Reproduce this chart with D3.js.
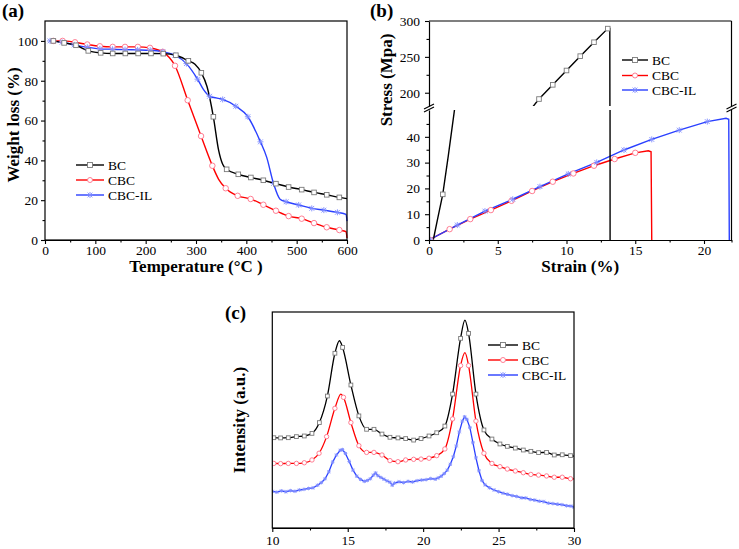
<!DOCTYPE html>
<html><head><meta charset="utf-8">
<script src="https://cdn.jsdelivr.net/npm/d3@7"></script>
<style>
body{margin:0;background:#fff}
svg{display:block}
text{font-family:"Liberation Serif","Times New Roman",serif;fill:#000}
</style>
</head><body>
<svg id="fig" width="739" height="549"></svg>
<script>
// ---------------- DATA ----------------
const seriesNames = ["BC", "CBC", "CBC-IL"];

// (a) TGA: temperature (°C) vs weight (%)
const tgaBCMarks  = [[16.6,100],[38,99],[61.6,97.8],[86,95],[110.6,94],[134.5,93.7],[159.6,93.7],[185,93.7],[210.6,93.7],[235,93.6],[260,92.8],[284.8,90],[310.6,84],[334.5,61.9],[360.9,35.5],[384,33],[409,31.4],[433.8,30],[458.8,28.3],[484,26.6],[510,25.3],[534.5,23.9],[559.7,22.7],[584.8,21.4]];
const tgaBCExtra  = [[298,88.3],[322,77],[345,45],[353,38],[600,20.8]];
const tgaCBCMarks = [[16.6,100],[35,100],[59.6,99.3],[84,98.2],[109,97.3],[134.5,97],[159,97],[184.5,97],[208.6,96.5],[233.8,94.5],[258.3,87.5],[283.5,70.2],[310,52.2],[332.5,37.3],[359,26],[382.8,22.2],[408.6,20.6],[433.8,17.7],[458.8,14.7],[484,12],[510,10.7],[534.5,8.5],[559.7,6.4],[584.8,5]];
const tgaCBCExtra = [[345,30.5],[598,4.2],[600,1]];
const tgaILMarks  = [[10,100],[34,99.3],[58,98],[84,96.8],[109,96],[134,95.8],[159,95.6],[184,95.5],[209,95.3],[234,94.5],[258,92.8],[281,88.6],[303,80.8],[327,72.2],[353,70.6],[379,67.2],[403,61.9],[428,49.3],[454,28.4],[479,19.2],[504,17.6],[530,15.9],[554,15],[581,13.9]];
const tgaILExtra  = [[315,75.5],[340,71.4],[440.5,41.5],[467,20.5],[598,12.9],[600,9.5]];
const tgaXTicks = [0,100,200,300,400,500,600];
const tgaYTicks = [0,20,40,60,80,100];

// (b) tensile: strain (%) vs stress (MPa)
const ssBC  = [[0.31,0],[0.6,7.5],[1.0,17.7],[1.4,32.5],[1.88,51.5],[7.45,178],[8.0,191.2],[9.0,211],[10,231],[11,251],[12,270.4],[13,289.4],[13.15,289.6],[13.17,0]];
const ssBCMarks = [[1.0,17.7],[8.0,191.2],[9.0,211],[10,231],[11,251],[12,270.4],[13,289.4]];
const ssCBC = [[0,0],[1.5,4.2],[3,8.1],[4.5,11.6],[6,15.2],[7.5,19],[9,22.6],[10.5,25.8],[12,28.8],[13.5,31.4],[15,33.8],[15.95,34.6],[16.15,34.2],[16.2,0]];
const ssCBCMarks = [[0.1,0],[1.5,4.2],[3,8.1],[4.5,11.6],[6,15.2],[7.5,19],[9,22.6],[10.5,25.8],[12,28.8],[13.5,31.4],[15,33.8]];
const ssIL  = [[0,0],[2.06,5.8],[4.07,11.2],[6.09,15.8],[8.07,20.7],[10.13,25.6],[12.2,30.1],[14.18,34.9],[16.2,39],[18.2,42.6],[20.24,45.9],[21.6,47.2],[21.8,46.8],[21.84,0]];
const ssILMarks = [[0.1,0],[2.06,5.8],[4.07,11.2],[6.09,15.8],[8.07,20.7],[10.13,25.6],[12.2,30.1],[14.18,34.9],[16.2,39],[18.2,42.6],[20.24,45.9]];
const ssXTicks = [0,5,10,15,20];
const ssYTicksLow = [0,10,20,30,40];
const ssYTicksUp = [200,250,300];

// (c) XRD: 2θ vs intensity (a.u.)
const xrdBCMarks = [[10.1,41.8],[10.55,41.7],[11.06,41.8],[11.6,42.3],[12.12,42.6],[12.63,43.8],[13.12,48.8],[13.65,61.1],[14.15,80.9],[14.66,83.6],[15.21,66.2],[15.74,51.9],[16.25,45.7],[16.74,45.7],[17.27,43.5],[17.8,42],[18.33,41.7],[18.84,41.4],[19.37,40.7],[19.86,41.4],[20.39,42.6],[20.9,44.1],[21.44,47.2],[21.95,62],[22.48,87.8],[23.01,90.1],[23.5,62],[24.03,45.4],[24.56,41.2],[25.09,38.9],[25.58,37.8],[26.11,37],[26.64,36.1],[27.14,35.5],[27.65,34.9],[28.18,35],[28.69,33.8],[29.22,33.9],[29.77,33.5]];
const xrdBCExtra = [[10,41.8],[14.45,86.7],[22.77,96.2],[30,33.3]];
const xrdCBCMarks = [[10.1,29.9],[10.55,29.8],[11.06,29.9],[11.6,29.9],[12.12,30.2],[12.63,31.5],[13.1,34.6],[13.6,42.3],[14.15,55.4],[14.72,60.5],[15.21,48.8],[15.74,38.1],[16.25,35],[16.74,35],[17.27,33.8],[17.8,31.2],[18.33,30.7],[18.84,31.5],[19.37,31.8],[19.86,31.9],[20.39,32.3],[20.9,33.5],[21.44,36.6],[21.95,50.5],[22.48,75.2],[23.01,75.2],[23.5,49.5],[24.03,34.6],[24.56,29.9],[25.09,28.4],[25.58,27.3],[26.11,26.4],[26.64,25.6],[27.14,24.8],[27.65,24.5],[28.18,24.1],[28.69,23.5],[29.22,23.5],[29.77,22.8]];
const xrdCBCExtra = [[10,29.9],[14.55,62],[22.77,81.2],[30,22.7]];
const xrdIL = [[10.0,17.0],[10.3,16.6],[10.6,17.2],[10.9,16.8],[11.2,17.3],[11.5,17.0],[11.8,17.6],[12.1,17.9],[12.4,18.3],[12.7,18.6],[13.0,19.8],[13.25,21.0],[13.5,22.8],[13.75,26.0],[14.0,30.5],[14.25,33.8],[14.5,36.0],[14.65,36.3],[14.85,34.5],[15.1,30.8],[15.35,26.8],[15.6,24.0],[15.85,22.5],[16.1,21.6],[16.3,22.0],[16.5,22.8],[16.7,24.5],[16.85,25.5],[17.0,24.2],[17.2,23.4],[17.4,22.6],[17.6,21.8],[17.8,21.2],[17.95,19.8],[18.1,20.8],[18.4,21.4],[18.7,21.0],[19.0,21.6],[19.3,21.3],[19.6,21.9],[19.9,22.2],[20.2,22.4],[20.5,22.9],[20.8,22.6],[21.0,23.2],[21.2,24.0],[21.4,25.2],[21.6,26.8],[21.8,29.5],[22.0,33.0],[22.2,38.0],[22.4,44.5],[22.6,49.5],[22.75,51.5],[22.9,50.3],[23.1,46.5],[23.3,39.5],[23.5,32.5],[23.7,26.5],[23.9,22.0],[24.1,20.0],[24.4,18.6],[24.7,17.6],[25.0,16.8],[25.3,16.1],[25.6,15.6],[25.9,15.0],[26.2,14.6],[26.5,14.0],[26.8,13.9],[27.1,13.2],[27.4,12.9],[27.7,12.4],[28.0,12.2],[28.3,11.5],[28.6,11.3],[28.9,11.0],[29.2,10.8],[29.5,10.3],[29.8,10.1],[30.0,9.7]];
const xrdXTicks = [10,15,20,25,30];

// ---------------- STYLE ----------------
const COL = {BC:"#000000", CBC:"#ff0000", IL:"#2a40ff"};
const MK  = {BC:"#7a7a7a", CBC:"#ff7088", IL:"#7f8cff"};
const FONT = '"Liberation Serif","Times New Roman",serif';
const TICKFS = 13.5;

const svg = d3.select("#fig");
const defs = svg.append("defs");

function merge(a,b){ return a.concat(b).sort((p,q)=>p[0]-q[0]); }
function minorBetween(ticks, step){ const out=[]; for(let i=0;i<ticks.length-1;i++){ out.push(ticks[i]+step);} return out; }

function styleAxis(g, fs){
  g.attr("font-family",FONT).attr("font-size",fs||TICKFS);
  g.select(".domain").attr("stroke","#000").attr("stroke-width",1.2);
  g.selectAll(".tick line").attr("stroke","#000").attr("stroke-width",1.1);
  g.selectAll(".tick text").attr("font-size",fs||TICKFS).attr("font-family",FONT).attr("fill","#000");
}

function marker(g, type, x, y, s){
  if(type==="square"){
    g.append("rect").attr("x",x-s/2).attr("y",y-s/2).attr("width",s).attr("height",s)
      .attr("fill","#fff").attr("stroke",MK.BC).attr("stroke-width",0.9);
  } else if(type==="circle"){
    g.append("circle").attr("cx",x).attr("cy",y).attr("r",s/2)
      .attr("fill","#fff").attr("stroke",MK.CBC).attr("stroke-width",0.9);
  } else {
    const r=s/2, d=r*0.8;
    g.append("path").attr("d",`M${x},${y-r}V${y+r}M${x-d},${y-d}L${x+d},${y+d}M${x-d},${y+d}L${x+d},${y-d}M${x-r},${y}H${x+r}`)
      .attr("stroke",MK.IL).attr("stroke-width",0.9).attr("fill","none");
  }
}

function clip(id, x0,y0,x1,y1){
  defs.append("clipPath").attr("id",id).append("rect").attr("x",x0).attr("y",y0).attr("width",x1-x0).attr("height",y1-y0);
  return `url(#${id})`;
}

function legend(g, x0, x1, tx, ys){
  const types=["square","circle","star"], cols=[COL.BC,COL.CBC,COL.IL];
  seriesNames.forEach((n,i)=>{
    g.append("line").attr("x1",x0).attr("x2",x1).attr("y1",ys[i]).attr("y2",ys[i]).attr("stroke",cols[i]).attr("stroke-width",1.4);
    marker(g, types[i], (x0+x1)/2, ys[i], types[i]==="star"?6:5);
    g.append("text").attr("x",tx).attr("y",ys[i]+4.5).attr("font-size",13.5).text(n);
  });
}

function panelLabel(t,x,y){ svg.append("text").attr("x",x).attr("y",y).attr("font-size",19).attr("font-weight","bold").text(t); }
function title(t,x,y,rot){
  const el=svg.append("text").attr("font-size",17).attr("font-weight","bold").attr("text-anchor","middle").text(t);
  if(rot) el.attr("transform",`translate(${x},${y}) rotate(-90)`); else el.attr("x",x).attr("y",y);
}

// ---------------- PANEL (a) ----------------
(function(){
  const L=45,R=347,T=21,B=240;
  const x=d3.scaleLinear().domain([0,600]).range([L,R]);
  const y=d3.scaleLinear().domain([0,110]).range([B,T]);
  const g=svg.append("g");
  const cp=clip("clipA",L,T,R+1,B);
  const line=d3.line().x(d=>x(d[0])).y(d=>y(d[1])).curve(d3.curveMonotoneX);
  const lg=g.append("g").attr("clip-path",cp);
  [[tgaCBCMarks,tgaCBCExtra,COL.CBC],[tgaILMarks,tgaILExtra,COL.IL],[tgaBCMarks,tgaBCExtra,COL.BC]].forEach(([m,e,c])=>{
    lg.append("path").attr("d",line(merge(m,e))).attr("fill","none").attr("stroke",c).attr("stroke-width",1.4);
  });
  tgaCBCMarks.forEach(d=>marker(lg,"circle",x(d[0]),y(d[1]),5.5));
  tgaILMarks.forEach(d=>marker(lg,"star",x(d[0]),y(d[1]),6));
  tgaBCMarks.forEach(d=>marker(lg,"square",x(d[0]),y(d[1]),4.6));

  g.append("rect").attr("x",L).attr("y",T).attr("width",R-L).attr("height",B-T).attr("fill","none").attr("stroke","#000").attr("stroke-width",1.2);
  const ax=g.append("g").attr("transform",`translate(0,${B})`).call(d3.axisBottom(x).tickValues(tgaXTicks).tickSize(4).tickPadding(1.5).tickSizeOuter(0));
  styleAxis(ax);
  const axm=g.append("g").attr("transform",`translate(0,${B})`).call(d3.axisBottom(x).tickValues(minorBetween(tgaXTicks,50)).tickSize(2.5).tickFormat("").tickSizeOuter(0));
  styleAxis(axm);
  const ay=g.append("g").attr("transform",`translate(${L},0)`).call(d3.axisLeft(y).tickValues(tgaYTicks).tickSize(4).tickPadding(3).tickSizeOuter(0));
  styleAxis(ay);
  const aym=g.append("g").attr("transform",`translate(${L},0)`).call(d3.axisLeft(y).tickValues(minorBetween(tgaYTicks,10)).tickSize(2.5).tickFormat("").tickSizeOuter(0));
  styleAxis(aym);
  ay.select(".domain").remove(); aym.select(".domain").remove(); axm.select(".domain").remove();

  legend(g,76,104,108,[165,180,195]);
  title("Temperature (°C )",(L+R)/2,272);
  title("Weight loss (%)",19,125,true);
  panelLabel("(a)",2,17);
})();

// ---------------- PANEL (b) ----------------
(function(){
  const L=429,R=731.5,T=21,B=240, lowTop=110, upBot=106;
  const x=d3.scaleLinear().domain([0,22]).range([L,R]);
  const yLow=d3.scaleLinear().domain([0,50.4]).range([B,lowTop]);
  const yUp=d3.scaleLinear().domain([181.5,300]).range([upBot,T]);
  const g=svg.append("g");
  const cpL=clip("clipBL",L,lowTop,R,B+1);
  const cpU=clip("clipBU",L,T,R,upBot);
  const lineL=d3.line().x(d=>x(d[0])).y(d=>yLow(d[1]));
  const lineU=d3.line().x(d=>x(d[0])).y(d=>yUp(d[1]));
  const gl=g.append("g").attr("clip-path",cpL), gu=g.append("g").attr("clip-path",cpU);
  [[ssCBC,COL.CBC],[ssIL,COL.IL],[ssBC,COL.BC]].forEach(([d,c])=>{
    gl.append("path").attr("d",lineL(d)).attr("fill","none").attr("stroke",c).attr("stroke-width",1.4);
    gu.append("path").attr("d",lineU(d)).attr("fill","none").attr("stroke",c).attr("stroke-width",1.4);
  });
  ssCBCMarks.forEach(d=>marker(gl,"circle",x(d[0]),yLow(d[1]),5.5));
  ssILMarks.forEach(d=>marker(gl,"star",x(d[0]),yLow(d[1]),6));
  ssBCMarks.forEach(d=>{ if(d[1]<=50.4) marker(gl,"square",x(d[0]),yLow(d[1]),4.6); else marker(gu,"square",x(d[0]),yUp(d[1]),4.6); });

  const fr=g.append("g").attr("stroke","#000").attr("stroke-width",1.2).attr("fill","none");
  fr.append("line").attr("x1",L).attr("x2",R).attr("y1",T).attr("y2",T);
  fr.append("line").attr("x1",R).attr("x2",R).attr("y1",T).attr("y2",upBot);
  fr.append("line").attr("x1",R).attr("x2",R).attr("y1",lowTop).attr("y2",B);

  const ax=g.append("g").attr("transform",`translate(0,${B})`).call(d3.axisBottom(x).tickValues(ssXTicks).tickSize(4).tickPadding(1.5).tickSizeOuter(0));
  styleAxis(ax);
  const axm=g.append("g").attr("transform",`translate(0,${B})`).call(d3.axisBottom(x).tickValues(minorBetween(ssXTicks,2.5).concat([22])).tickSize(2.5).tickFormat("").tickSizeOuter(0));
  styleAxis(axm); axm.select(".domain").remove();
  const ayl=g.append("g").attr("transform",`translate(${L},0)`).call(d3.axisLeft(yLow).tickValues(ssYTicksLow).tickSize(4).tickPadding(5).tickSizeOuter(0));
  styleAxis(ayl);
  const aylm=g.append("g").attr("transform",`translate(${L},0)`).call(d3.axisLeft(yLow).tickValues([5,15,25,35,45]).tickSize(2.5).tickFormat("").tickSizeOuter(0));
  styleAxis(aylm); aylm.select(".domain").remove();
  const ayu=g.append("g").attr("transform",`translate(${L},0)`).call(d3.axisLeft(yUp).tickValues(ssYTicksUp).tickSize(4).tickPadding(5).tickSizeOuter(0));
  styleAxis(ayu);
  const ayum=g.append("g").attr("transform",`translate(${L},0)`).call(d3.axisLeft(yUp).tickValues(minorBetween(ssYTicksUp,25)).tickSize(2.5).tickFormat("").tickSizeOuter(0));
  styleAxis(ayum); ayum.select(".domain").remove();

  [L,R].forEach(bx=>{
    [upBot+0.5, lowTop-0.5].forEach(by=>{
      g.append("line").attr("x1",bx-5).attr("y1",by+2.5).attr("x2",bx+5).attr("y2",by-2.5).attr("stroke","#000").attr("stroke-width",1.2);
    });
  });

  legend(g,622,648,652,[60,75.5,90]);
  title("Strain (%)",(L+R)/2,272);
  title("Stress (Mpa)",392,80,true);
  panelLabel("(b)",370,17);
})();

// ---------------- PANEL (c) ----------------
(function(){
  const L=272.3,R=574,T=312,B=528;
  const x=d3.scaleLinear().domain([10,30]).range([L,R]);
  const y=d3.scaleLinear().domain([0,100]).range([B,T]);
  const g=svg.append("g");
  const cp=clip("clipC",L,T,R,B);
  const lineS=d3.line().x(d=>x(d[0])).y(d=>y(d[1])).curve(d3.curveMonotoneX);
  const lineL=d3.line().x(d=>x(d[0])).y(d=>y(d[1]));
  const lg=g.append("g").attr("clip-path",cp);
  lg.append("path").attr("d",lineL(xrdIL)).attr("fill","none").attr("stroke",COL.IL).attr("stroke-width",1.3);
  lg.append("path").attr("d",lineS(merge(xrdCBCMarks,xrdCBCExtra))).attr("fill","none").attr("stroke",COL.CBC).attr("stroke-width",1.3);
  lg.append("path").attr("d",lineS(merge(xrdBCMarks,xrdBCExtra))).attr("fill","none").attr("stroke",COL.BC).attr("stroke-width",1.3);
  xrdIL.forEach(d=>marker(lg,"star",x(d[0]),y(d[1]),3.6));
  xrdCBCMarks.forEach(d=>marker(lg,"circle",x(d[0]),y(d[1]),4.4));
  xrdBCMarks.forEach(d=>marker(lg,"square",x(d[0]),y(d[1]),3.8));

  g.append("rect").attr("x",L).attr("y",T).attr("width",R-L).attr("height",B-T).attr("fill","none").attr("stroke","#000").attr("stroke-width",1.2);
  const ax=g.append("g").attr("transform",`translate(0,${B})`).call(d3.axisBottom(x).tickValues(xrdXTicks).tickSize(4).tickPadding(3).tickSizeOuter(0));
  styleAxis(ax);
  const axm=g.append("g").attr("transform",`translate(0,${B})`).call(d3.axisBottom(x).tickValues(minorBetween(xrdXTicks,2.5)).tickSize(2.5).tickFormat("").tickSizeOuter(0));
  styleAxis(axm); axm.select(".domain").remove();

  legend(g,488,518,522,[345,360,375]);
  title("Intensity (a.u.)",245,420,true);
  panelLabel("(c)",225,319);
})();
</script>
</body></html>
